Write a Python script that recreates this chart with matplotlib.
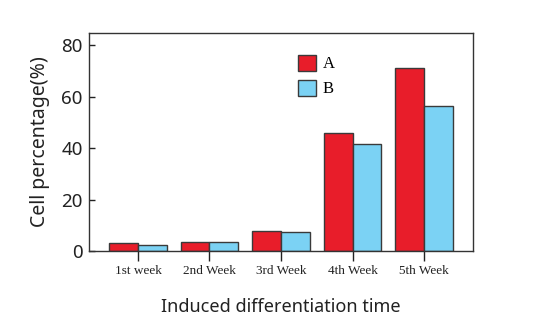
import matplotlib
matplotlib.use("Agg")
import matplotlib.pyplot as plt
import numpy as np

categories = ["1st week", "2nd Week", "3rd Week", "4th Week", "5th Week"]
series_a = [3.0, 3.6, 7.8, 45.7, 71.0]
series_b = [2.2, 3.6, 7.3, 41.6, 56.4]
yticks = [0, 20, 40, 60, 80]

fig = plt.figure(figsize=(5.33, 3.31), dpi=100)
ax = fig.add_axes([89/533, 1-251/331, 384/533, 218/331])

x = np.arange(len(categories))
w = 0.405
edge = "#3a3a3a"
ax.bar(x - w/2, series_a, w, color="#E81D2A", edgecolor=edge, linewidth=1.0, label="A")
ax.bar(x + w/2, series_b, w, color="#7BD2F4", edgecolor=edge, linewidth=1.0, label="B")

ax.set_xlim(-0.685, 4.685)
ax.set_ylim(0, 84.7)
ax.set_yticks(yticks)
ax.set_xticks(x)
ax.set_xticklabels(categories, family="Liberation Serif", fontsize=9.5)
ax.tick_params(axis="y", labelsize=13.5, direction="in", length=4.5, width=1, colors="#222222", pad=4.5)
ax.tick_params(axis="x", direction="out", length=7, width=1, colors="#222222", pad=3)
for lab in ax.get_yticklabels():
    lab.set_family("Noto Sans")
for s in ax.spines.values():
    s.set_color("#333333")
    s.set_linewidth(1.0)

ax.set_ylabel("Cell percentage(%)", family="Noto Sans", fontsize=14, color="#222222", labelpad=8)
ax.set_xlabel("Induced differentiation time", family="Noto Sans", fontsize=13, color="#222222", labelpad=15)

leg = ax.legend(loc="upper left", bbox_to_anchor=(0.505, 0.97), frameon=False,
                prop={"family": "Liberation Serif", "size": 12},
                handlelength=1.1, handleheight=1.1, handletextpad=0.4, labelspacing=0.45)

fig.savefig("out.png", dpi=100)
